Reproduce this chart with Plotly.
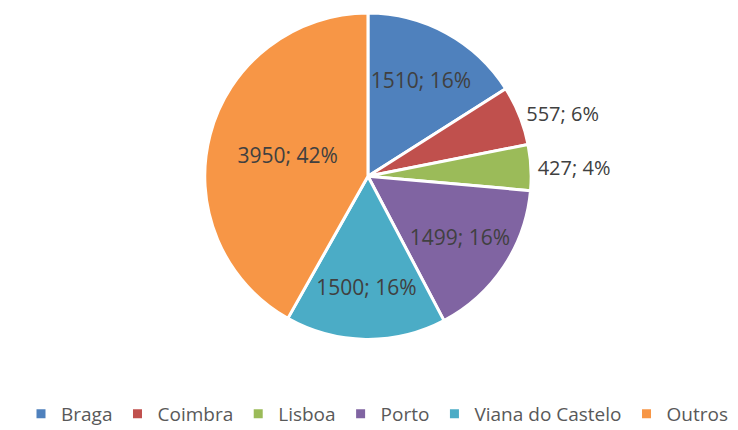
import plotly.graph_objects as go

labels = ["Braga", "Coimbra", "Lisboa", "Porto", "Viana do Castelo", "Outros"]
values = [1510, 557, 427, 1499, 1500, 3950]
pct_labels = ["16%", "6%", "4%", "16%", "16%", "42%"]
colors = ["#4F81BD", "#C0504D", "#9BBB59", "#8064A2", "#4BACC6", "#F79646"]
positions = ["inside", "outside", "outside", "inside", "inside", "inside"]

texts = [f"{v}; {p}" for v, p in zip(values, pct_labels)]

fig = go.Figure(go.Pie(
    labels=labels, values=values, text=texts, textinfo="text",
    textposition=positions, sort=False, direction="clockwise", rotation=0,
    marker=dict(colors=colors, line=dict(color="white", width=3)),
    insidetextfont=dict(color="#404040", size=21),
    outsidetextfont=dict(color="#404040", size=20),
    insidetextorientation="horizontal",
    domain=dict(x=[0.2630, 0.7125], y=[0.232, 1.0]),
))
fig.update_layout(
    width=738, height=430, margin=dict(l=0, r=0, t=0, b=0),
    paper_bgcolor="white", plot_bgcolor="white",
    font=dict(family="Open Sans", color="#595959", size=19),
    legend=dict(orientation="h", x=0.5, xanchor="center", y=0.012, yanchor="bottom",
                font=dict(size=19, color="#595959"), itemwidth=30, traceorder="normal"),
)
fig.write_html("out.html")
